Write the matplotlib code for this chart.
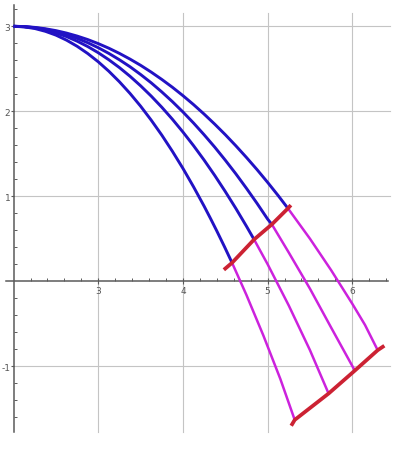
import matplotlib
matplotlib.use("Agg")
import matplotlib.pyplot as plt
import numpy as np

# ---- data ----
blue1_x = [2.0, 2.125, 2.25, 2.375, 2.5, 2.625, 2.75, 2.875, 3.0, 3.125, 3.25, 3.375, 3.5,
           3.625, 3.75, 3.875, 4.0, 4.125, 4.25, 4.325, 4.4, 4.49, 4.58]
blue1_y = [3.0, 2.993, 2.974, 2.941, 2.896, 2.837, 2.765, 2.680, 2.582, 2.471, 2.347, 2.210, 2.06,
           1.896, 1.72, 1.530, 1.328, 1.112, 0.884, 0.740, 0.592, 0.408, 0.218]
blue2_x = [2.0, 2.125, 2.25, 2.375, 2.5, 2.625, 2.75, 2.875, 3.0, 3.125, 3.25, 3.375, 3.5,
           3.625, 3.75, 3.875, 4.0, 4.125, 4.25, 4.375, 4.5, 4.625, 4.75, 4.84]
blue2_y = [3.0, 2.995, 2.981, 2.956, 2.922, 2.879, 2.825, 2.762, 2.689, 2.606, 2.514, 2.412, 2.30,
           2.179, 2.048, 1.907, 1.756, 1.596, 1.426, 1.246, 1.056, 0.857, 0.648, 0.492]
blue3_x = [2.0, 2.125, 2.25, 2.375, 2.5, 2.625, 2.75, 2.875, 3.0, 3.125, 3.25, 3.375, 3.5,
           3.625, 3.75, 3.875, 4.0, 4.125, 4.25, 4.375, 4.5, 4.625, 4.75, 4.875, 5.0, 5.05]
blue3_y = [3.0, 2.996, 2.984, 2.965, 2.937, 2.902, 2.858, 2.807, 2.748, 2.681, 2.606, 2.524, 2.433,
           2.335, 2.228, 2.114, 1.992, 1.862, 1.724, 1.579, 1.425, 1.264, 1.094, 0.917, 0.732, 0.67]
blue4_x = [2.0, 2.125, 2.25, 2.375, 2.5, 2.625, 2.75, 2.875, 3.0, 3.125, 3.25, 3.375, 3.5,
           3.625, 3.75, 3.875, 4.0, 4.125, 4.25, 4.375, 4.5, 4.625, 4.75, 4.875, 5.0, 5.125, 5.24]
blue4_y = [3.0, 2.997, 2.987, 2.971, 2.949, 2.920, 2.885, 2.844, 2.796, 2.742, 2.681, 2.614, 2.541,
           2.461, 2.375, 2.283, 2.184, 2.079, 1.967, 1.849, 1.725, 1.594, 1.457, 1.314, 1.164, 1.008, 0.858]

mag1_x = [4.58, 4.75, 4.95, 5.15, 5.32]
mag1_y = [0.218, -0.161, -0.638, -1.148, -1.63]
mag2_x = [4.84, 5.0, 5.25, 5.5, 5.72]
mag2_y = [0.492, 0.201, -0.285, -0.81, -1.32]
mag3_x = [5.05, 5.25, 5.5, 5.75, 6.03]
mag3_y = [0.67, 0.338, -0.087, -0.544, -1.05]
mag4_x = [5.24, 5.5, 5.75, 6.0, 6.15, 6.30]
mag4_y = [0.858, 0.501, 0.131, -0.264, -0.513, -0.81]

red_top_x = [4.50, 4.58, 4.84, 5.05, 5.24, 5.26]
red_top_y = [0.15, 0.218, 0.492, 0.67, 0.858, 0.88]
red_bot_x = [5.29, 5.32, 5.72, 6.03, 6.30, 6.36]
red_bot_y = [-1.68, -1.63, -1.32, -1.05, -0.81, -0.77]

x_major = [3, 4, 5, 6]
x_labels = ["3", "4", "5", "6"]
y_major = [-1, 1, 2, 3]
y_labels = ["-1", "1", "2", "3"]

blue_c = "#2212c4"
mag_c = "#cc22dd"
red_c = "#cc2233"
grid_c = "#c4c4c4"
axis_c = "#5a5a5a"

fig = plt.figure(figsize=(4.02, 4.52), dpi=100)
ax = fig.add_axes([0, 0, 1, 1])
ax.set_xlim(1.8394, 6.587)
ax.set_ylim(-1.996, 3.321)
ax.patch.set_alpha(0)
fig.patch.set_facecolor("white")

# grid
for gx in x_major:
    ax.plot([gx, gx], [-1.773, 3.156], color=grid_c, lw=0.8, zorder=1)
for gy in y_major:
    ax.plot([2.0, 6.44], [gy, gy], color=grid_c, lw=0.8, zorder=1)

for bx, by in [(blue1_x, blue1_y), (blue2_x, blue2_y), (blue3_x, blue3_y), (blue4_x, blue4_y)]:
    ax.plot(bx, by, color=blue_c, lw=2.1, solid_capstyle="butt", solid_joinstyle="round", zorder=3)
for mx, my in [(mag1_x, mag1_y), (mag2_x, mag2_y), (mag3_x, mag3_y), (mag4_x, mag4_y)]:
    ax.plot(mx, my, color=mag_c, lw=1.8, solid_capstyle="butt", solid_joinstyle="round", zorder=3)
ax.plot(red_top_x, red_top_y, color=red_c, lw=2.7, solid_joinstyle="round", zorder=4)
ax.plot(red_bot_x, red_bot_y, color=red_c, lw=2.7, solid_joinstyle="round", zorder=4)

# axes
for s in ["top", "right"]:
    ax.spines[s].set_visible(False)
ax.spines["left"].set_position(("data", 2.0))
ax.spines["bottom"].set_position(("data", 0.0))
ax.spines["left"].set_bounds(-1.773, 3.25)
ax.spines["bottom"].set_bounds(1.91, 6.42)
for s in ["left", "bottom"]:
    ax.spines[s].set_color(axis_c)
    ax.spines[s].set_linewidth(1.1)
    ax.spines[s].set_zorder(2)

ax.set_xticks(x_major)
ax.set_xticklabels(x_labels)
ax.set_yticks(y_major)
ax.set_yticklabels(y_labels)
x_minor = [v for v in np.round(np.arange(2.2, 6.41, 0.2), 2) if abs(v - round(v)) > 1e-6]
y_minor = [v for v in np.round(np.arange(-1.6, 3.21, 0.2), 2) if abs(v - round(v)) > 1e-6]
ax.set_xticks(x_minor, minor=True)
ax.set_yticks(y_minor, minor=True)

ax.tick_params(axis="x", which="major", direction="inout", length=4, width=0.8,
               color=axis_c, labelsize=6.5, labelcolor="#555555", pad=1.5)
ax.tick_params(axis="x", which="minor", direction="in", length=2.2, width=0.7, color=axis_c)
ax.tick_params(axis="y", which="major", direction="out", length=2.0, width=0.8,
               color=axis_c, labelsize=6.5, labelcolor="#555555", pad=0.3)
ax.tick_params(axis="y", which="minor", direction="in", length=2.2, width=0.7, color=axis_c)

fig.savefig("out.png", dpi=100)
